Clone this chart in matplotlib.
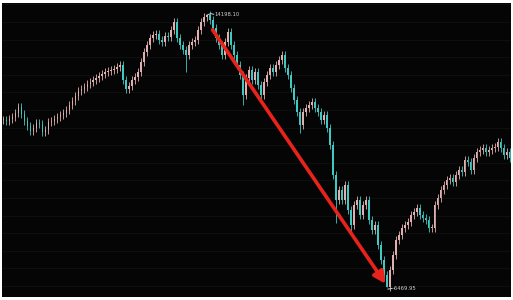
import numpy as np
import matplotlib
matplotlib.use("Agg")
import matplotlib.pyplot as plt

# closing values (one candle per ~3 px)
closes = [
    11215, 11186, 11243, 11300, 11414, 11584, 11385, 11186, 11044, 10902,
    10988, 11130, 11101, 10874, 10931, 11158, 11186, 11243, 11300, 11357,
    11414, 11499, 11641, 11755, 11897, 12039, 12096, 12152, 12238, 12294,
    12351, 12408, 12465, 12522, 12578, 12607, 12635, 12664, 12721, 12777,
    12351, 12096, 12181, 12351, 12436, 12578, 12863, 13147, 13346, 13544,
    13630, 13658, 13488, 13431, 13601, 13573, 13772, 13999, 13544, 13346,
    13203, 13061, 13346, 13431, 13488, 13772, 13999, 14141, 14198,
    14056, 13829, 13544, 13346, 13061, 13431, 13715, 13346, 13061, 12777,
    12493, 11925, 12408, 12635, 12351, 12578, 12209, 11925, 12294, 12493,
    12692, 12578, 12777, 12919, 13061, 12692, 12493, 12124, 11783, 11442,
    11073, 11442, 11556, 11641, 11726, 11556, 11442, 11215, 11357, 10988,
    10505, 9652, 8942, 9226, 8942, 9368, 8658, 8232, 8800, 8942,
    8516, 8800, 8942, 8374, 8090, 8232, 7664, 7237, 6811, 6470,
    6953, 7380, 7806, 7948, 8147, 8232, 8317, 8516, 8601, 8715,
    8516, 8431, 8374, 8147, 8147, 8800, 8999, 9226, 9368, 9510,
    9567, 9453, 9652, 9794, 9737, 10078, 10022, 9794, 10135, 10306,
    10362, 10419, 10306, 10362, 10419, 10448, 10590, 10419, 10220, 10306,
    10135,
]
# a few long lower shadows
long_lows = {61: 12578, 80: 11641, 99: 10845, 111: 8289, 116: 7948}

peak_label = "14198.10"
low_label = "6469.95"

closes = np.array(closes, dtype=float)
n = len(closes)
idx = np.arange(n)
opens = np.r_[closes[0], closes[:-1]]
up = closes >= opens
body_lo = np.minimum(opens, closes)
body_hi = np.maximum(opens, closes)
highs = body_hi + 110
lows = body_lo - 110
for i, v in long_lows.items():
    lows[i] = v
lows[128] = 6470
highs[68] = 14198

fig = plt.figure(figsize=(5.13, 3.0), dpi=100, facecolor="white")
ax = fig.add_axes([2 / 513, 3 / 300, 509 / 513, 294 / 300])
ax.set_facecolor("#050505")

# very faint horizontal grid every 500 points
for g in range(6500, 14600, 500):
    ax.axhline(g, color="#101010", lw=0.6, zorder=0)

up_col = "#e0b0b0"
dn_col = "#40c8c2"
cols = np.where(up, up_col, dn_col)
ax.vlines(idx, lows, highs, colors=cols, lw=0.6, zorder=2)
ax.bar(idx, np.maximum(body_hi - body_lo, 25), bottom=body_lo, width=0.55,
       color=cols, linewidth=0, zorder=3)

# red arrow peak -> trough
ax.annotate("", xy=(127.6, 6560), xytext=(69.8, 13780),
            arrowprops=dict(arrowstyle="-|>,head_length=0.7,head_width=0.35",
                            color="#e8231c", lw=2.6, shrinkA=0, shrinkB=0),
            zorder=5)

pk = int(np.argmax(closes))
lo = int(np.argmin(closes))
ax.plot([pk, pk + 1.2, pk + 2.2], [closes[pk], closes[pk] + 40, closes[pk] + 20],
        color="#d0d0d0", lw=0.7, zorder=6)
ax.text(pk + 2.4, closes[pk] + 20, peak_label, color="#d0d0d0", fontsize=3.8,
        va="center", ha="left", zorder=6)
ax.plot([lo + 0.4, lo + 1.8], [closes[lo] - 60, closes[lo] - 40],
        color="#d0d0d0", lw=0.7, zorder=6)
ax.text(lo + 1.9, closes[lo] - 30, "-" + low_label, color="#d0d0d0",
        fontsize=3.8, va="center", ha="left", zorder=6)

ax.set_xlim(-0.5, n - 0.5)
ax.set_ylim(6186, 14539)
ax.set_xticks([])
ax.set_yticks([])
for s in ax.spines.values():
    s.set_visible(False)

fig.savefig("out.png", dpi=100, facecolor="white")
